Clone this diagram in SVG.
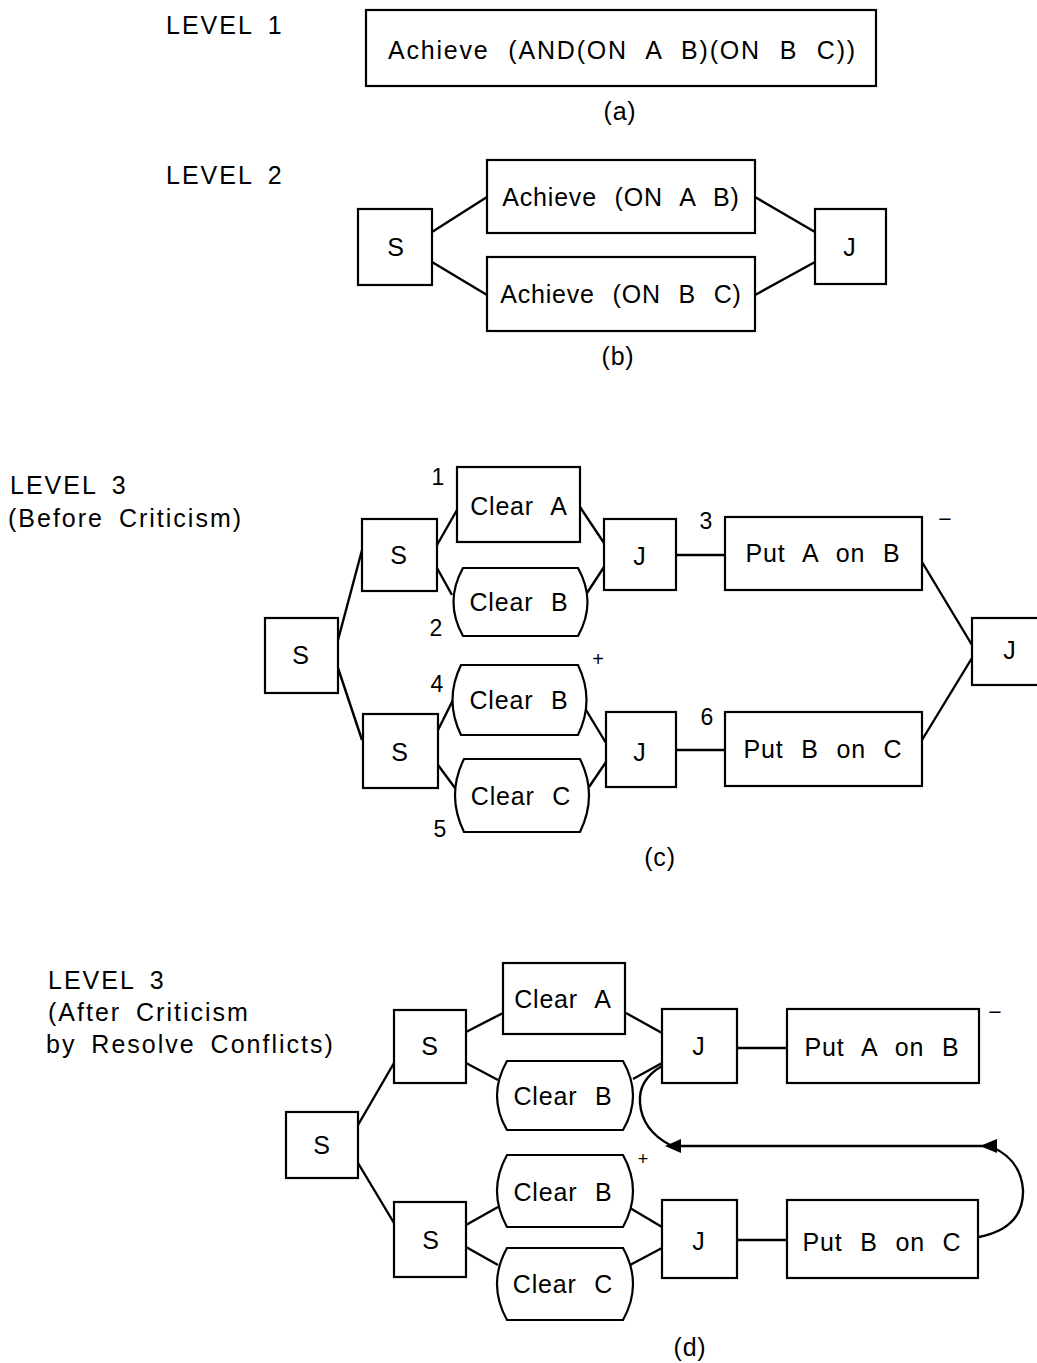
<svg xmlns="http://www.w3.org/2000/svg" width="1037" height="1363" viewBox="0 0 1037 1363">
<style>
rect,.hx{fill:#fff;stroke:#000;stroke-width:2.2}
.c line,.c path{stroke:#000;stroke-width:2.4;fill:none}
text{font-family:"Liberation Sans",Arial,sans-serif;font-size:25px;fill:#000}
.m{text-anchor:middle;word-spacing:10px;letter-spacing:0.8px}
.l{letter-spacing:2px;word-spacing:6px}
.n{font-size:23px;text-anchor:middle}
</style>
<rect width="1037" height="1363" style="fill:#fff;stroke:none"/>
<g class="c" id="connectors">
<line x1="432" y1="232" x2="487" y2="197"/>
<line x1="432" y1="262" x2="487" y2="295"/>
<line x1="755" y1="197" x2="815" y2="232"/>
<line x1="755" y1="295" x2="815" y2="262"/>
<line x1="338" y1="640" x2="362" y2="550"/>
<line x1="338" y1="668" x2="362" y2="740"/>
<line x1="437" y1="545" x2="457" y2="510"/>
<line x1="437" y1="568" x2="452" y2="595"/>
<line x1="580" y1="507" x2="604" y2="543"/>
<line x1="587" y1="593" x2="604" y2="567"/>
<line x1="438" y1="730" x2="453" y2="700"/>
<line x1="438" y1="765" x2="455" y2="788"/>
<line x1="586" y1="710" x2="606" y2="743"/>
<line x1="589" y1="787" x2="606" y2="762"/>
<line x1="676" y1="555" x2="725" y2="555"/>
<line x1="676" y1="750" x2="725" y2="750"/>
<line x1="922" y1="562" x2="972" y2="645"/>
<line x1="922" y1="740" x2="972" y2="658"/>
<line x1="358" y1="1125" x2="394" y2="1063"/>
<line x1="358" y1="1163" x2="394" y2="1223"/>
<line x1="466" y1="1032" x2="503" y2="1013"/>
<line x1="466" y1="1063" x2="498" y2="1080"/>
<line x1="466" y1="1225" x2="498" y2="1207"/>
<line x1="466" y1="1247" x2="498" y2="1265"/>
<line x1="626" y1="1013" x2="662" y2="1033"/>
<line x1="633" y1="1079" x2="662" y2="1063"/>
<line x1="630" y1="1208" x2="662" y2="1227"/>
<line x1="630" y1="1265" x2="662" y2="1248"/>
<line x1="737" y1="1048" x2="787" y2="1048"/>
<line x1="737" y1="1240" x2="787" y2="1240"/>
<line x1="672" y1="1146" x2="990" y2="1146"/>
<path d="M662,1066 Q638,1080 640,1103 Q642,1130 670,1145"/>
<path d="M979,1237 Q1024,1228 1023,1190 Q1021,1160 992,1147"/>
<polygon points="665,1146 681,1139 681,1153" fill="#000"/>
<polygon points="980,1146 997,1139 997,1153" fill="#000"/>
</g>
<g id="level1">
<text x="166" y="34" class="l">LEVEL 1</text>
<rect x="366" y="10" width="510" height="76"/>
<text x="622" y="59" class="m" textLength="468" lengthAdjust="spacing">Achieve (AND(ON A B)(ON B C))</text>
<text x="620" y="120" class="m">(a)</text>
</g>
<g id="level2">
<text x="166" y="184" class="l">LEVEL 2</text>
<g id="b-s"><rect x="358" y="209" width="74" height="76"/><text x="396" y="256" class="m">S</text></g>
<g id="b-ab"><rect x="487" y="160" width="268" height="73"/><text x="621" y="206" class="m">Achieve (ON A B)</text></g>
<g id="b-bc"><rect x="487" y="257" width="268" height="74"/><text x="621" y="303" class="m">Achieve (ON B C)</text></g>
<g id="b-j"><rect x="815" y="209" width="71" height="75"/><text x="850" y="256" class="m">J</text></g>
<text x="618" y="365" class="m">(b)</text>
</g>
<g id="level3c">
<text x="10" y="494" class="l">LEVEL 3</text>
<text x="8" y="527" class="l">(Before Criticism)</text>
<g id="c-s0"><rect x="265" y="618" width="73" height="75"/><text x="301" y="664" class="m">S</text></g>
<g id="c-s1"><rect x="362" y="519" width="75" height="72"/><text x="399" y="564" class="m">S</text></g>
<g id="c-s2"><rect x="363" y="714" width="75" height="74"/><text x="400" y="761" class="m">S</text></g>
<g id="c-ca"><rect x="457" y="467" width="123" height="75"/><text x="519" y="515" class="m">Clear A</text></g>
<g id="c-cb1"><path class="hx" d="M463,568 L578,568 Q597,602 578,636 L463,636 Q444,602 463,568 Z"/><text x="519" y="611" class="m">Clear B</text></g>
<g id="c-cb2"><path class="hx" d="M461,665 L578,665 Q595,700 578,735 L461,735 Q444,700 461,665 Z"/><text x="519" y="709" class="m">Clear B</text></g>
<g id="c-cc"><path class="hx" d="M464,759 L580,759 Q598,795 580,832 L464,832 Q446,795 464,759 Z"/><text x="521" y="805" class="m">Clear C</text></g>
<g id="c-j1"><rect x="604" y="519" width="72" height="71"/><text x="640" y="565" class="m">J</text></g>
<g id="c-j2"><rect x="606" y="712" width="70" height="75"/><text x="640" y="761" class="m">J</text></g>
<g id="c-pab"><rect x="725" y="517" width="197" height="73"/><text x="823" y="562" class="m">Put A on B</text></g>
<g id="c-pbc"><rect x="725" y="712" width="197" height="74"/><text x="823" y="758" class="m">Put B on C</text></g>
<g id="c-j3"><rect x="972" y="618" width="70" height="67"/><text x="1010" y="659" class="m">J</text></g>
<text x="438" y="485" class="n">1</text>
<text x="436" y="636" class="n">2</text>
<text x="706" y="529" class="n">3</text>
<text x="437" y="692" class="n">4</text>
<text x="440" y="837" class="n">5</text>
<text x="707" y="725" class="n">6</text>
<text x="945" y="527" class="n">−</text>
<text x="598" y="666" class="n" style="font-size:20px">+</text>
<text x="660" y="866" class="m">(c)</text>
</g>
<g id="level3d">
<text x="48" y="989" class="l">LEVEL 3</text>
<text x="48" y="1021" class="l">(After Criticism</text>
<text x="46" y="1053" class="l">by Resolve Conflicts)</text>
<g id="d-s0"><rect x="286" y="1112" width="72" height="66"/><text x="322" y="1154" class="m">S</text></g>
<g id="d-s1"><rect x="394" y="1010" width="72" height="73"/><text x="430" y="1055" class="m">S</text></g>
<g id="d-s2"><rect x="394" y="1202" width="72" height="75"/><text x="431" y="1249" class="m">S</text></g>
<g id="d-ca"><rect x="503" y="963" width="122" height="71"/><text x="563" y="1008" class="m">Clear A</text></g>
<g id="d-cb1"><path class="hx" d="M507,1061 L623,1061 Q643,1096 623,1130 L507,1130 Q487,1096 507,1061 Z"/><text x="563" y="1105" class="m">Clear B</text></g>
<g id="d-cb2"><path class="hx" d="M507,1155 L623,1155 Q643,1191 623,1227 L507,1227 Q487,1191 507,1155 Z"/><text x="563" y="1201" class="m">Clear B</text></g>
<g id="d-cc"><path class="hx" d="M507,1248 L623,1248 Q643,1284 623,1320 L507,1320 Q487,1284 507,1248 Z"/><text x="563" y="1293" class="m">Clear C</text></g>
<g id="d-j1"><rect x="662" y="1009" width="75" height="74"/><text x="699" y="1055" class="m">J</text></g>
<g id="d-j2"><rect x="662" y="1200" width="75" height="78"/><text x="699" y="1250" class="m">J</text></g>
<g id="d-pab"><rect x="787" y="1009" width="192" height="74"/><text x="882" y="1056" class="m">Put A on B</text></g>
<g id="d-pbc"><rect x="787" y="1200" width="191" height="78"/><text x="882" y="1251" class="m">Put B on C</text></g>
<text x="995" y="1020" class="n">−</text>
<text x="643" y="1165" class="n" style="font-size:18px">+</text>
<text x="690" y="1356" class="m">(d)</text>
</g>
</svg>
